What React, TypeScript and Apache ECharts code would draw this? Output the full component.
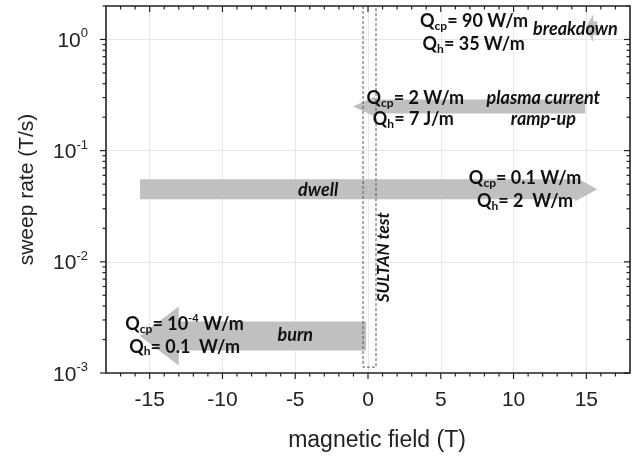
import React, { useEffect, useRef } from 'react';
import * as echarts from 'echarts';

// axis ranges
const fieldMin = -18;
const fieldMax = 18;
const rateMin = 0.001;
const rateMax = 2;

// arrows (magnetic field in T, sweep rate in T/s)
const arrowNames = ['breakdown', 'plasma current ramp-up', 'dwell', 'burn'];
const arrowTailField = [15.75, 14.93, -15.66, -0.13];
const arrowTipField = [14.93, -1.03, 15.75, -15.68];
const arrowSweepRate = [1.26, 0.25, 0.045, 0.00215];

// SULTAN test window (outline corners)
const sultanField = [-0.34, -0.34, 0.55, 0.55];
const sultanRate = [2, 0.00113, 0.00113, 2];

// annotations
const noteTexts = [
  '{q|Q}{s|cp}{q|= 90 W/m}',
  '{i|breakdown}',
  '{q|Q}{s|h}{q|= 35 W/m}',
  '{q|Q}{s|cp}{q|= 2 W/m}',
  '{q|Q}{s|h}{q|= 7 J/m}',
  '{i|plasma current}',
  '{i|ramp-up}',
  '{q|Q}{s|cp}{q|= 0.1 W/m}',
  '{q|Q}{s|h}{q|= 2  W/m}',
  '{i|dwell}',
  '{q|Q}{s|cp}{q|= 10}{u|-4}{q| W/m}',
  '{q|Q}{s|h}{q|= 0.1  W/m}',
  '{i|burn}',
  '{t|SULTAN test}',
];
const noteField = [7.29, 14.25, 7.26, 3.25, 3.12, 12.05, 12.05, 10.79, 10.79, -3.42, -12.6, -12.6, -5.0, 1.03];
const noteRate = [1.485, 1.26, 0.923, 0.302, 0.195, 0.302, 0.195, 0.0577, 0.0358, 0.045, 0.00281, 0.00175, 0.00224, 0.011];
const noteAngle = [0, 0, 0, 0, 0, 0, 0, 0, 0, 0, 0, 0, 0, 90];

// arrow shapes in pixels (style)
const arrowShape: Record<string, { body: number; head: number; len: number }> = {
  breakdown: { body: 7, head: 14, len: 8 },
  'plasma current ramp-up': { body: 7, head: 10, len: 22 },
  dwell: { body: 10, head: 12, len: 22 },
  burn: { body: 14.5, head: 29.5, len: 39 },
};

const NOTE_FONT = 'Lato';
const AXIS_FONT = 'Liberation Sans';
const INK = '#111';
const FRAME = '#222';

const noteRich = {
  q: { fontFamily: NOTE_FONT, fontWeight: 'bold', fontSize: 18, lineHeight: 22, fill: INK },
  s: { fontFamily: NOTE_FONT, fontWeight: 'bold', fontSize: 12, lineHeight: 12, verticalAlign: 'bottom', fill: INK },
  u: { fontFamily: NOTE_FONT, fontWeight: 'bold', fontSize: 11, lineHeight: 12, verticalAlign: 'top', fill: INK },
  i: { fontFamily: NOTE_FONT, fontWeight: 'bold', fontStyle: 'italic', fontSize: 18, lineHeight: 22, fill: INK },
  t: { fontFamily: NOTE_FONT, fontWeight: 'bold', fontStyle: 'italic', fontSize: 17, lineHeight: 20, fill: INK },
};

// tick marks placed on the axes' scales (drawn as small rect symbols)
function buildTicks() {
  const items: any[] = [];
  const W = 1.2;
  for (let x = fieldMin + 1; x < fieldMax; x++) {
    const len = x % 5 === 0 ? 6 : 3.5;
    items.push({ value: [x, rateMin], symbolSize: [W, len], symbolOffset: [0, len / 2] });
    items.push({ value: [x, rateMax], symbolSize: [W, len], symbolOffset: [0, len / 2] });
  }
  for (let d = -3; d <= 0; d++) {
    for (let m = 1; m <= 9; m++) {
      const v = m * Math.pow(10, d);
      if (v > rateMax) continue;
      const len = m === 1 ? 6 : 3.5;
      items.push({ value: [fieldMin, v], symbolSize: [len, W], symbolOffset: [-len / 2, 0] });
      items.push({ value: [fieldMax, v], symbolSize: [len, W], symbolOffset: [-len / 2, 0] });
    }
  }
  return items;
}

function buildOption() {
  const arrowData = arrowNames.map((n, i) => [arrowTailField[i], arrowTipField[i], arrowSweepRate[i]]);
  const noteData = noteTexts.map((t, i) => [noteField[i], noteRate[i]]);
  const sultanData = sultanField.map((x, i) => [x, sultanRate[i]]);

  return {
    animation: false,
    grid: { left: 106, right: 8, top: 6, bottom: 84 },
    xAxis: {
      type: 'value',
      min: fieldMin,
      max: fieldMax,
      splitNumber: 7,
      name: 'magnetic field (T)',
      nameLocation: 'middle',
      nameGap: 54,
      nameTextStyle: { fontFamily: AXIS_FONT, fontSize: 23, color: '#222', padding: [0, 0, 0, 18] },
      axisLine: { show: false, onZero: false },
      axisTick: { show: false },
      axisLabel: {
        showMinLabel: false,
        showMaxLabel: false,
        margin: 15,
        fontFamily: AXIS_FONT,
        fontSize: 21,
        color: '#222',
        formatter: (v: number) => (v % 5 === 0 ? String(v) : ''),
      },
      splitLine: { show: true, showMinLine: false, showMaxLine: false, lineStyle: { color: '#e8e8e8', width: 1 } },
    },
    yAxis: {
      type: 'log',
      logBase: 10,
      min: rateMin,
      max: rateMax,
      name: 'sweep rate (T/s)',
      nameLocation: 'middle',
      nameGap: 70,
      nameTextStyle: { fontFamily: AXIS_FONT, fontSize: 21, color: '#222' },
      axisLine: { show: false, onZero: false },
      axisTick: { show: false },
      axisLabel: {
        showMaxLabel: false,
        margin: 18,
        formatter: (v: number) => {
          const e = Math.round(Math.log10(v));
          if (Math.abs(Math.pow(10, e) - v) > 1e-9) return '';
          return `{b|10}{s|${e}}`;
        },
        rich: {
          b: { fontFamily: AXIS_FONT, fontSize: 21, lineHeight: 26, color: '#222' },
          s: { fontFamily: AXIS_FONT, fontSize: 13, lineHeight: 13, verticalAlign: 'top', color: '#222' },
        },
      },
      splitLine: { show: true, showMinLine: false, showMaxLine: false, lineStyle: { color: '#e8e8e8', width: 1 } },
    },
    series: [
      {
        type: 'custom',
        name: 'arrows',
        silent: true,
        clip: false,
        encode: { x: [0, 1], y: 2 },
        data: arrowData,
        z: 2,
        renderItem: (params: any, api: any) => {
          const i = params.dataIndex;
          const tail = api.coord([api.value(0), api.value(2)]);
          const tip = api.coord([api.value(1), api.value(2)]);
          const s = arrowShape[arrowNames[i]];
          const dir = tip[0] > tail[0] ? 1 : -1;
          const y = tail[1];
          const bx = tip[0] - dir * s.len;
          const points = [
            [tail[0], y - s.body],
            [bx, y - s.body],
            [bx, y - s.head],
            [tip[0], y],
            [bx, y + s.head],
            [bx, y + s.body],
            [tail[0], y + s.body],
          ];
          return { type: 'polygon', shape: { points }, style: { fill: '#c0c0c0' } };
        },
      },
      {
        type: 'line',
        name: 'SULTAN test',
        silent: true,
        clip: false,
        z: 3,
        data: sultanData,
        showSymbol: false,
        symbol: 'none',
        lineStyle: { color: '#555', width: 1, type: [3, 2] },
      },
      {
        type: 'custom',
        name: 'frame',
        silent: true,
        clip: false,
        z: 6,
        encode: { x: [0, 1], y: [2, 3] },
        data: [[fieldMin, fieldMax, rateMin, rateMax]],
        renderItem: (params: any, api: any) => {
          const p0 = api.coord([api.value(0), api.value(3)]);
          const p1 = api.coord([api.value(1), api.value(2)]);
          return {
            type: 'rect',
            shape: { x: p0[0], y: p0[1], width: p1[0] - p0[0], height: p1[1] - p0[1] },
            style: { fill: 'none', stroke: FRAME, lineWidth: 1.6 },
          };
        },
      },
      {
        type: 'scatter',
        name: 'ticks',
        silent: true,
        clip: false,
        z: 6,
        symbol: 'rect',
        itemStyle: { color: FRAME, opacity: 1 },
        data: buildTicks(),
      },
      {
        type: 'custom',
        name: 'notes',
        silent: true,
        clip: false,
        z: 7,
        encode: { x: 0, y: 1 },
        data: noteData,
        renderItem: (params: any, api: any) => {
          const i = params.dataIndex;
          const p = api.coord([api.value(0), api.value(1)]);
          return {
            type: 'text',
            x: p[0],
            y: p[1],
            rotation: (noteAngle[i] * Math.PI) / 180,
            style: {
              text: noteTexts[i],
              rich: noteRich,
              align: 'center',
              verticalAlign: 'middle',
              fill: INK,
            },
          };
        },
      },
    ],
  };
}

export default function App() {
  const ref = useRef<HTMLDivElement>(null);
  useEffect(() => {
    const chart = echarts.init(ref.current!, null, { renderer: 'svg' });
    chart.setOption(buildOption() as any);
    return () => chart.dispose();
  }, []);
  return <div ref={ref} style={{ position: 'fixed', left: 0, top: 0, width: 638, height: 457 }} />;
}
